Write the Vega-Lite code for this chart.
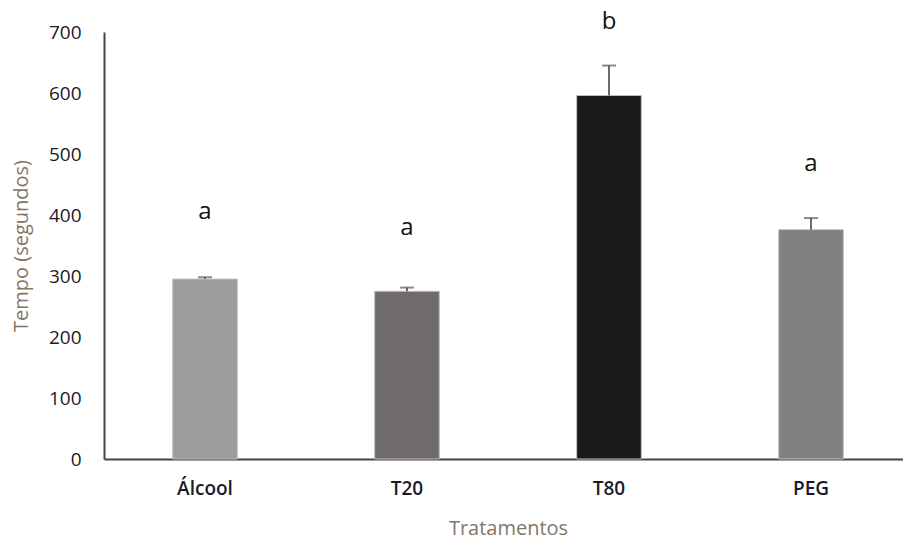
{
  "$schema": "https://vega.github.io/schema/vega-lite/v6.json",
  "autosize": {"type": "none"},
  "padding": {"left": 104, "top": 32, "right": 0, "bottom": 81},
  "width": 808,
  "height": 427,
  "background": "white",
  "config": {"view": {"stroke": null}, "font": "Open Sans"},
  "data": {"values": [
    {"trat": "Álcool", "tempo": 295, "sup": 298, "letra": "a", "pos": 405},
    {"trat": "T20", "tempo": 275, "sup": 281, "letra": "a", "pos": 379},
    {"trat": "T80", "tempo": 596, "sup": 645, "letra": "b", "pos": 716},
    {"trat": "PEG", "tempo": 376, "sup": 395, "letra": "a", "pos": 483}
  ]},
  "encoding": {
    "x": {
      "field": "trat", "type": "nominal", "sort": null,
      "scale": {"paddingInner": 0.68, "paddingOuter": 0.34},
      "axis": {
        "title": "Tratamentos", "titleFont": "Open Sans", "titleFontSize": 20, "titleFontWeight": "normal",
        "titleColor": "#857565", "titlePadding": 20,
        "labelAngle": 0, "labelFont": "Open Sans", "labelFontSize": 19, "labelFontWeight": 600,
        "labelColor": "#1a1a2a", "labelPadding": 20, "ticks": false,
        "domainColor": "#444444", "domainWidth": 2
      }
    }
  },
  "layer": [
    {
      "mark": {"type": "bar", "stroke": "#c0c0c0", "strokeWidth": 1},
      "encoding": {
        "y": {
          "field": "tempo", "type": "quantitative",
          "scale": {"domain": [0, 700], "nice": false},
          "axis": {
            "title": "Tempo (segundos)", "titleFont": "Open Sans", "titleFontSize": 20, "titleFontWeight": "normal",
            "titleColor": "#857565", "titlePadding": 17,
            "values": [0, 100, 200, 300, 400, 500, 600, 700],
            "labelFont": "Open Sans", "labelFontSize": 19, "labelColor": "#1a1a2a", "labelPadding": 23,
            "ticks": false, "grid": false, "domainColor": "#444444", "domainWidth": 2
          }
        },
        "color": {
          "field": "trat", "type": "nominal", "legend": null,
          "scale": {"domain": ["Álcool", "T20", "T80", "PEG"], "range": ["#9c9c9c", "#6f6b6a", "#1a1a1a", "#808080"]}
        }
      }
    },
    {
      "mark": {"type": "rule", "color": "#5a5a5a", "strokeWidth": 1.8},
      "encoding": {
        "y": {"field": "tempo", "type": "quantitative"},
        "y2": {"field": "sup"}
      }
    },
    {
      "mark": {"type": "tick", "color": "#5a5a5a", "thickness": 2, "size": 14, "orient": "horizontal"},
      "encoding": {
        "y": {"field": "sup", "type": "quantitative"}
      }
    },
    {
      "mark": {"type": "text", "font": "Open Sans", "fontSize": 24, "color": "#111111", "baseline": "middle"},
      "encoding": {
        "y": {"field": "pos", "type": "quantitative"},
        "text": {"field": "letra"}
      }
    }
  ]
}
